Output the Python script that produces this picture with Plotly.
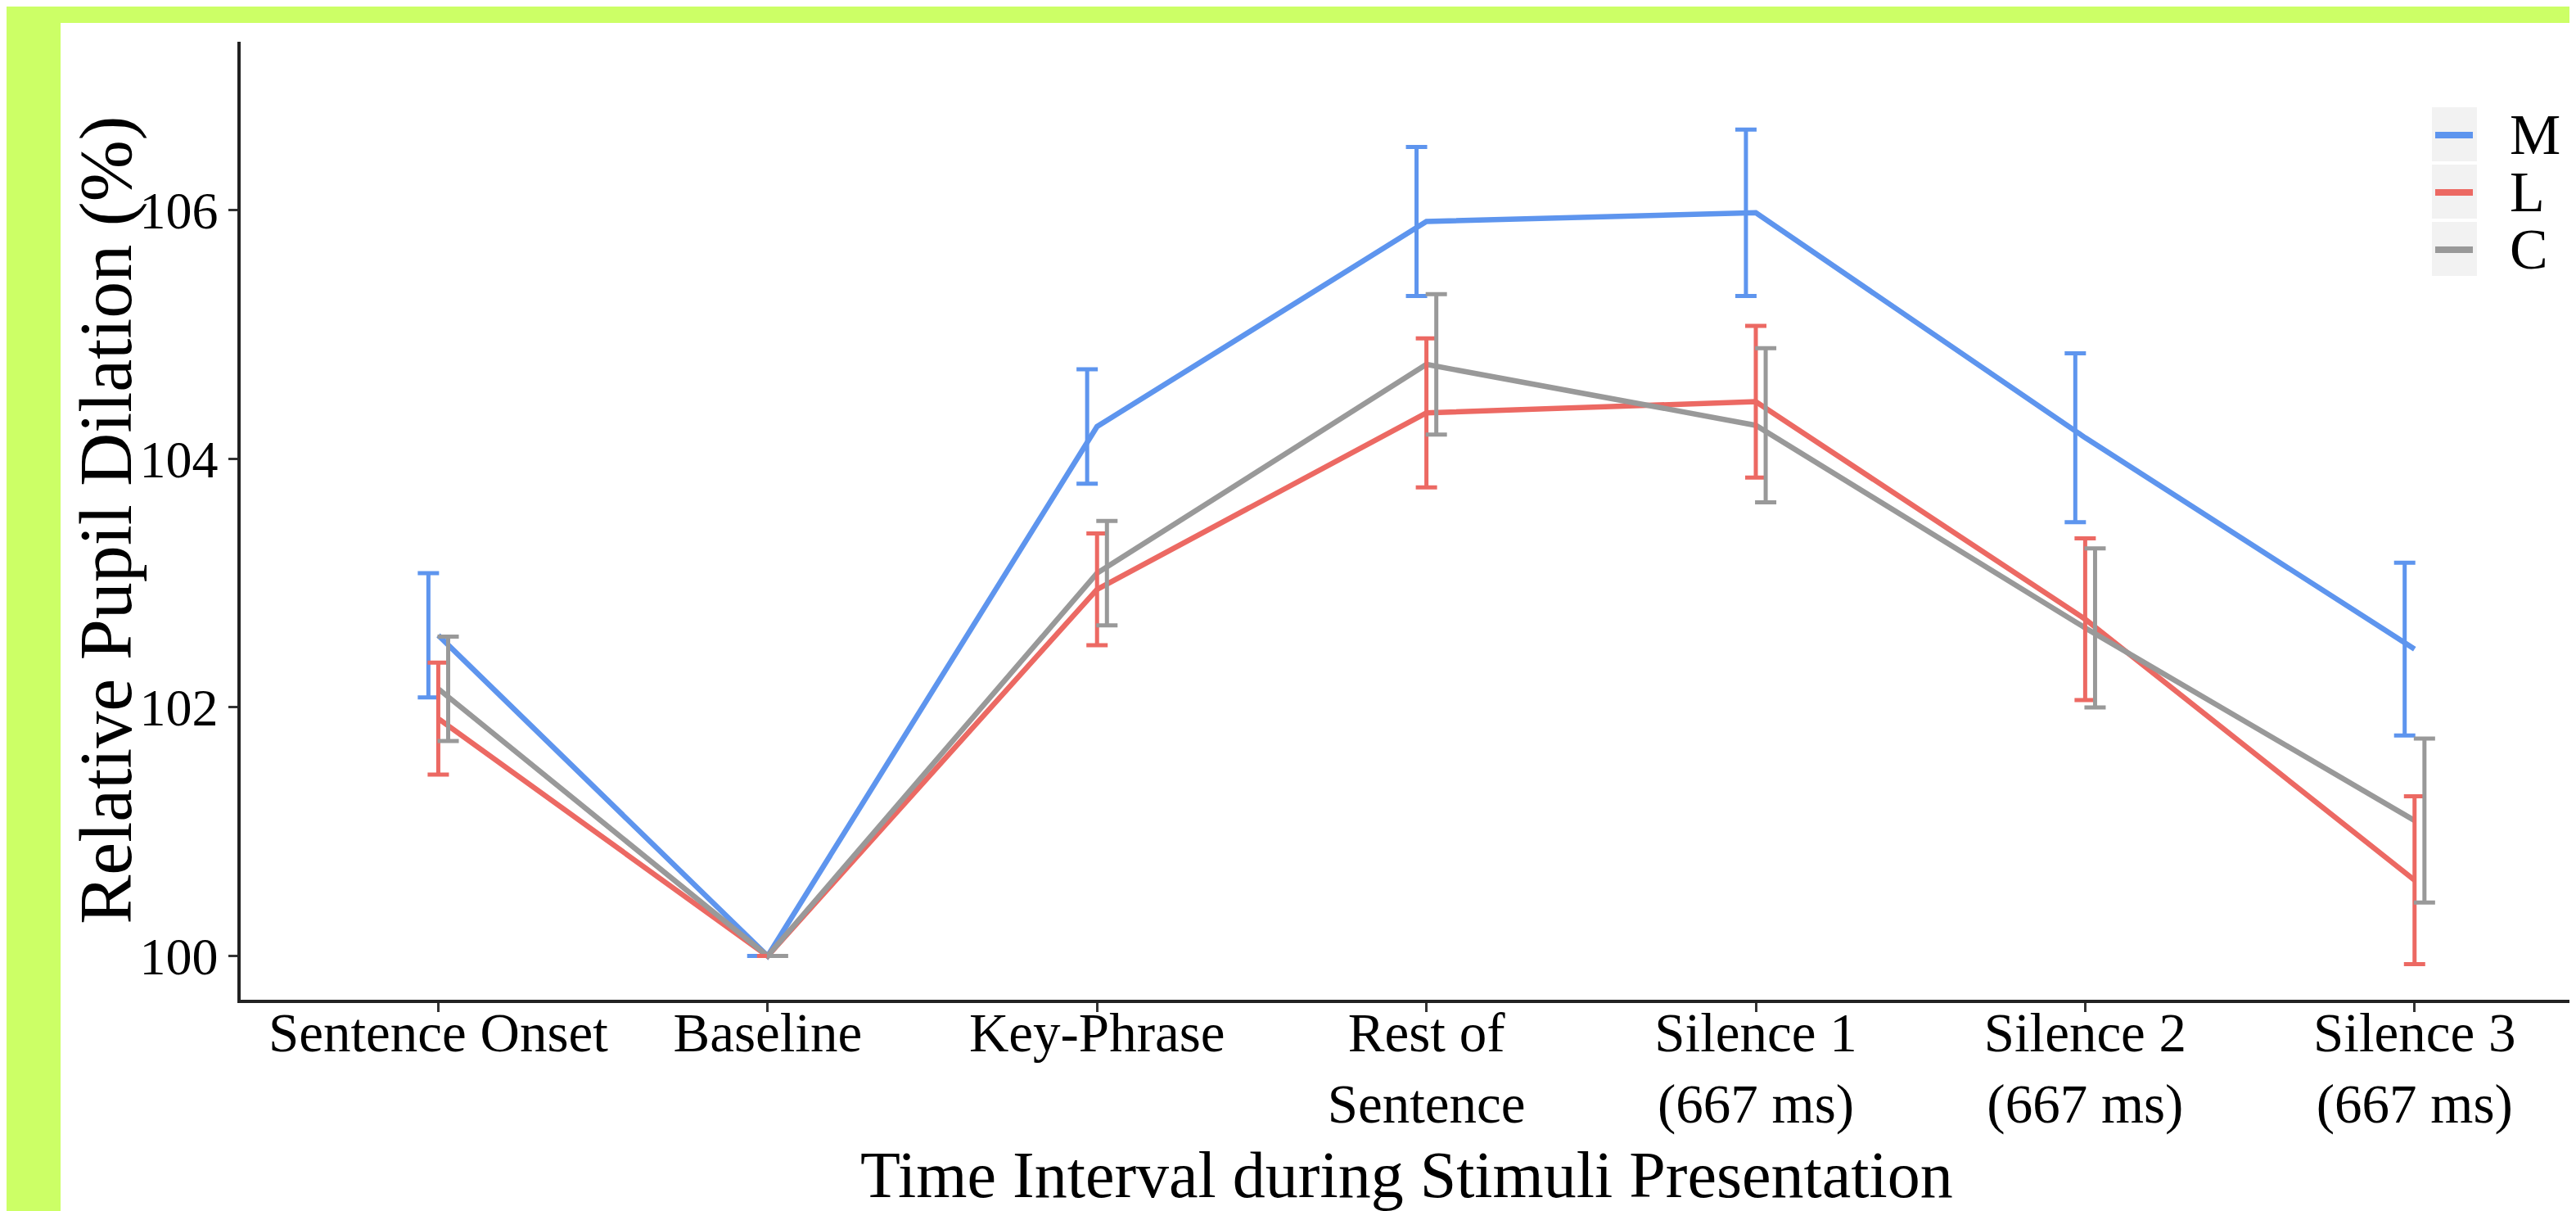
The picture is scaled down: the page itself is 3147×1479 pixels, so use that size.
import plotly.graph_objects as go

# ---------------- data ----------------
categories = ["Sentence Onset", "Baseline", "Key-Phrase", "Rest of Sentence",
              "Silence 1 (667 ms)", "Silence 2 (667 ms)", "Silence 3 (667 ms)"]
tick_labels = ["Sentence Onset", "Baseline", "Key-Phrase", "Rest of<br>Sentence",
               "Silence 1<br>(667 ms)", "Silence 2<br>(667 ms)", "Silence 3<br>(667 ms)"]
x_pos = [1, 2, 3, 4, 5, 6, 7]

series_names = ["M", "L", "C"]
M_mean = [102.58, 100.0, 104.26, 105.91, 105.98, 104.17, 102.47]
M_err = [0.50, 0.0, 0.46, 0.60, 0.67, 0.68, 0.695]
L_mean = [101.91, 100.0, 102.95, 104.37, 104.46, 102.71, 100.61]
L_err = [0.45, 0.0, 0.45, 0.60, 0.61, 0.65, 0.675]
C_mean = [102.15, 100.0, 103.08, 104.76, 104.27, 102.64, 101.09]
C_err = [0.42, 0.0, 0.42, 0.565, 0.62, 0.64, 0.66]
y_ticks = [100, 102, 104, 106]

means = [M_mean, L_mean, C_mean]
errs = [M_err, L_err, C_err]
colors = ["#5E95EE", "#EC6963", "#999999"]
dodge = [-0.03, 0.0, 0.03]

# ---------------- geometry ----------------
W, H = 3147, 1479
PL, PR, PT, PB = 286, 3147, 43, 1213.5
FONT = "Liberation Serif, Times New Roman, serif"


def px_x(p):
    return (p - PL) / (PR - PL)


def px_y(p):
    return (PB - p) / (PB - PT)


fig = go.Figure()

# lines (not dodged)
for name, m, c in zip(series_names, means, colors):
    fig.add_trace(go.Scatter(x=x_pos, y=m, mode="lines", name=name,
                             line=dict(color=c, width=6.5), showlegend=False))

# error bars (dodged)
for name, m, e, c, d in zip(series_names, means, errs, colors, dodge):
    fig.add_trace(go.Scatter(x=[xi + d for xi in x_pos], y=m, mode="markers", name=name,
                             marker=dict(size=1, color="rgba(0,0,0,0)"),
                             error_y=dict(type="data", array=e, visible=True,
                                          color=c, thickness=5, width=13),
                             showlegend=False))

shapes = []
# green frame: paper background green, white page rectangle
shapes.append(dict(type="rect", xref="paper", yref="paper", layer="below",
                   x0=px_x(66), x1=px_x(W + 20), y0=px_y(H + 20), y1=px_y(20),
                   fillcolor="white", line=dict(width=0)))

# manual legend
box_tops = [123, 193, 263]
annotations = []
for name, c, top in zip(series_names, colors, box_tops):
    shapes.append(dict(type="rect", xref="paper", yref="paper", layer="above",
                       x0=px_x(2963), x1=px_x(3018), y0=px_y(top + 66), y1=px_y(top),
                       fillcolor="#F2F2F2", line=dict(width=0)))
    shapes.append(dict(type="line", xref="paper", yref="paper", layer="above",
                       x0=px_x(2967), x1=px_x(3013), y0=px_y(top + 34), y1=px_y(top + 34),
                       line=dict(color=c, width=8)))
    annotations.append(dict(text=name, xref="paper", yref="paper", showarrow=False,
                            x=px_x(3056), y=px_y(top + 34), xanchor="left", yanchor="middle",
                            font=dict(family=FONT, size=70, color="black")))

# axis titles
annotations.append(dict(text="Relative Pupil Dilation (%)", xref="paper", yref="paper",
                        showarrow=False, x=px_x(122), y=px_y(628), textangle=-90,
                        xanchor="center", yanchor="middle",
                        font=dict(family=FONT, size=90, color="black")))
annotations.append(dict(text="Time Interval during Stimuli Presentation", xref="paper",
                        yref="paper", showarrow=False, x=px_x(1710), y=px_y(1428),
                        xanchor="center", yanchor="middle",
                        font=dict(family=FONT, size=80, color="black")))

fig.update_layout(
    width=W, height=H,
    margin=dict(l=PL, r=W - PR, t=PT, b=H - PB, pad=0, autoexpand=False),
    paper_bgcolor="#CCFF66",
    plot_bgcolor="white",
    shapes=shapes,
    annotations=annotations,
    showlegend=False,
    font=dict(family=FONT, color="black"),
    xaxis=dict(range=[0.4, 7.51], tickmode="array", tickvals=x_pos, ticktext=tick_labels,
               showgrid=False, zeroline=False, showline=True, linecolor="#222222",
               linewidth=3.5, ticks="outside", ticklen=11, tickwidth=3, tickcolor="#333333",
               ticklabelstandoff=-32,
               tickfont=dict(family=FONT, size=67, color="black"), automargin=False),
    yaxis=dict(range=[99.648, 107.356], tickmode="array", tickvals=y_ticks,
               showgrid=False, zeroline=False, showline=True, linecolor="#222222",
               linewidth=3.5, ticks="outside", ticklen=11, tickwidth=3, tickcolor="#333333",
               tickfont=dict(family=FONT, size=64, color="black"), automargin=False),
)

fig.write_html("out.html")
